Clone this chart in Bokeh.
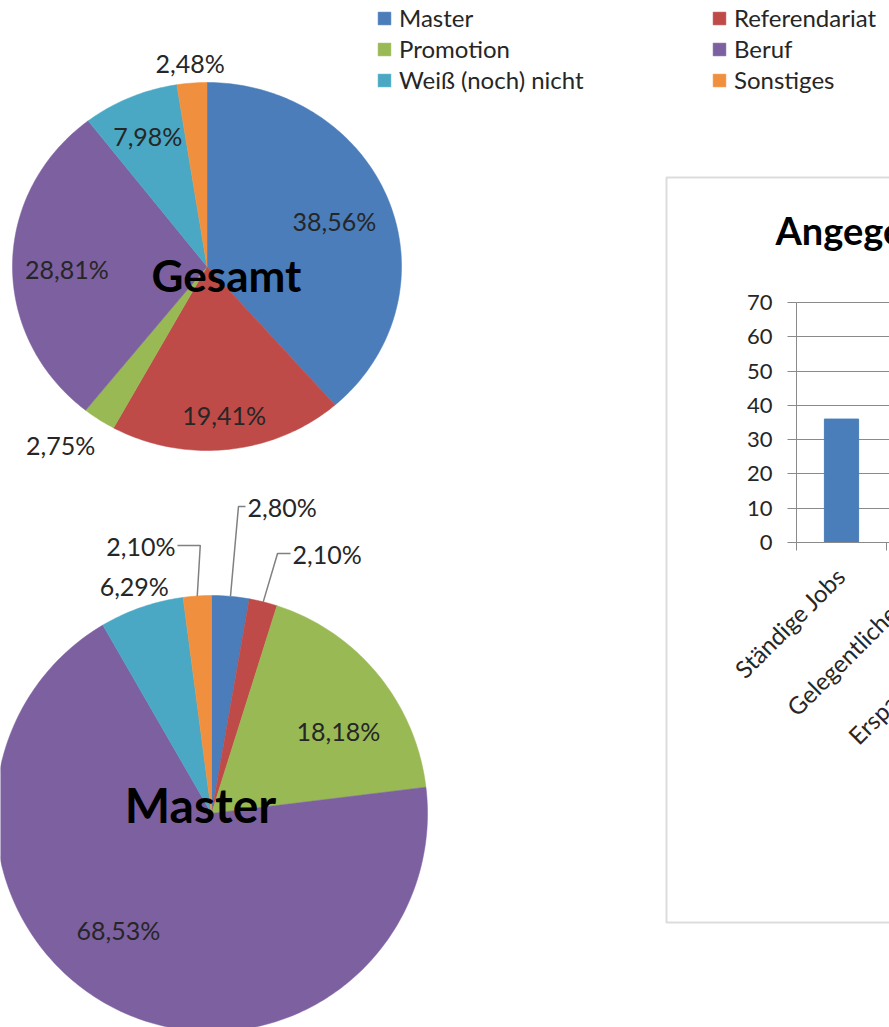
import numpy as np
from math import pi
from bokeh.plotting import figure
from bokeh.models import (Range1d, LinearAxis, FixedTicker, Grid, Legend, LegendItem,
                          LabelSet, BoxAnnotation, ColumnDataSource)
from bokeh.core.properties import value
from bokeh.embed import file_html
from bokeh.resources import INLINE

# ---------------- data ----------------
categories = ["Master", "Referendariat", "Promotion", "Beruf", "Weiß (noch) nicht", "Sonstiges"]
gesamt_pct = [38.56, 19.41, 2.75, 28.81, 7.98, 2.48]
master_pct = [2.80, 2.10, 18.18, 68.53, 6.29, 2.10]
pie_titles = ["Gesamt", "Master"]

bar_title = "Angegebene Finanzierungsquellen"
bar_categories = ["Ständige Jobs", "Gelegentliche Jobs", "Ersparnisse/Vermögen"]
bar_values = [36]
bar_ticks = [0, 10, 20, 30, 40, 50, 60, 70]

# ---------------- style / layout ----------------
colors = ["#4A7DBA", "#BE4B48", "#98B954", "#7D60A0", "#4AA8C4", "#F0903F"]
FONT = "Lato"
W, H = 889, 1027          # figure size
X0, Y0 = 0, 0             # page offset of the figure

# pie geometry: centre and radii (px)
PIE_G = dict(cx=206.5, cy=266, rx=194.5, ry=184)
PIE_M = dict(cx=211, cy=813, rx=216, ry=218)
# label placement per slice: (radial factor, dx, dy, align)
LAB_G = [(0.70, 0, 0, "center"), (0.81, 0, 0, "center"), (1.20, -17, -5, "center"),
         (0.72, 0, 4, "center"), (0.77, 0, 0, "center"), (1.11, 0, 0, "center")]
LAB_M = [(1.4137, 9.2, 0, "left"), (1.2284, 17.5, 0, "left"), (0.60, 27, 1, "center"),
         (0.599, -35.5, 0, "center"), (1.105, 0, 0, "center"), (1.232, -18.5, 0, "right")]
LEAD_M = [8, 14.3, None, None, None, 3]
TITLE_POS = [(226, 274, 44), (200, 804, 48)]   # x, y (middle), font size

# bar chart placement (px)
BAR_AX_X = 796      # y-axis x position
BAR_CAT_W = 90      # width of one category
BAR_Y0 = 542        # pixel of value 0
BAR_YTOP = 302      # pixel of top tick
BOX = dict(left=666, top=177, bottom=922)

p = figure(width=W, height=H, x_range=Range1d(X0, X0 + W), y_range=Range1d(Y0 + H, Y0),
           output_backend="svg", toolbar_location=None, min_border=0,
           x_axis_type=None, y_axis_type=None, outline_line_color=None)


def pct_text(v):
    return f"{v:.2f}".replace(".", ",") + "%"


def draw_pie(pcts, geo, labs, leads=None):
    cx, cy, rx, ry = geo["cx"], geo["cy"], geo["rx"], geo["ry"]
    total = float(sum(pcts))
    cum = np.concatenate([[0.0], np.cumsum(pcts)]) / total
    xs, ys, mids = [], [], []
    for a0, a1 in zip(cum[:-1], cum[1:]):
        n = max(4, int((a1 - a0) * 360) + 2)
        t = np.linspace(a0, a1, n) * 2 * pi
        xs.append(list(np.concatenate([[cx], cx + rx * np.sin(t)])))
        ys.append(list(np.concatenate([[cy], cy - ry * np.cos(t)])))
        mids.append((a0 + a1) * pi)
    src = ColumnDataSource(dict(xs=xs, ys=ys, color=colors, cat=categories))
    r = p.patches("xs", "ys", source=src, fill_color="color", line_color="color", line_width=0.5)
    groups = {"center": ([], [], []), "left": ([], [], []), "right": ([], [], [])}
    lead_xs, lead_ys = [], []
    for i, (v, m) in enumerate(zip(pcts, mids)):
        f, dx, dy, al = labs[i]
        lx = cx + rx * f * np.sin(m) + dx
        ly = cy - ry * f * np.cos(m) + dy
        g = groups[al]
        g[0].append(lx); g[1].append(ly); g[2].append(pct_text(v))
        if leads is not None and leads[i] is not None:
            ex, ey = cx + rx * np.sin(m), cy - ry * np.cos(m)
            ax = lx - 2 if al == "left" else lx + 2
            lead_xs.append([ex, ex + leads[i], ax])
            lead_ys.append([ey, ly, ly])
    for al, (gx, gy, gt) in groups.items():
        if gx:
            p.text(x=gx, y=gy, text=gt, text_align=al, text_baseline="middle",
                   text_font=value(FONT), text_font_size="25px", text_color="#262626")
    if lead_xs:
        p.multi_line(lead_xs, lead_ys, line_color="#808080", line_width=1.5)
    return r


r_g = draw_pie(gesamt_pct, PIE_G, LAB_G)
r_m = draw_pie(master_pct, PIE_M, LAB_M, LEAD_M)

for name, (tx, ty, fs) in zip(pie_titles, TITLE_POS):
    p.text(x=[tx], y=[ty], text=[name], text_align="center", text_baseline="middle",
           text_font=value(FONT), text_font_style="bold", text_font_size=f"{fs}px", text_color="black")

# legends (two columns)
leg_kw = dict(background_fill_alpha=0, border_line_color=None, padding=0, margin=0, spacing=2,
              glyph_width=16, glyph_height=16, label_standoff=7, label_text_font=FONT,
              label_text_font_size="24px", label_text_color="#262626")
leg1 = Legend(items=[LegendItem(label=categories[i], renderers=[r_g], index=i) for i in (0, 2, 4)],
              location=(376 - X0, H - 94), **leg_kw)
leg2 = Legend(items=[LegendItem(label=categories[i], renderers=[r_g], index=i) for i in (1, 3, 5)],
              location=(711 - X0, H - 94), **leg_kw)
p.add_layout(leg1)
p.add_layout(leg2)

# ---------------- bar chart ----------------
k = (BAR_Y0 - BAR_YTOP) / bar_ticks[-1]
p.extra_x_ranges["bx"] = Range1d((X0 - BAR_AX_X) / BAR_CAT_W - 0.5, (X0 + W - BAR_AX_X) / BAR_CAT_W - 0.5)
p.extra_y_ranges["by"] = Range1d((BAR_Y0 - (Y0 + H)) / k, (BAR_Y0 - Y0) / k)

p.add_layout(BoxAnnotation(left=BOX["left"], right=X0 + W + 20, top=BOX["top"], bottom=BOX["bottom"],
                           fill_alpha=0, line_color="#8a8a8a", line_width=2))

grid = Grid(dimension=1, ticker=FixedTicker(ticks=bar_ticks), x_range_name="bx", y_range_name="by",
            cross_bounds=(-0.5, len(bar_categories) + 5), grid_line_color="#8a8a8a", grid_line_width=1)
p.add_layout(grid)

p.vbar(x=list(range(len(bar_values))), top=bar_values, width=0.38, x_range_name="bx", y_range_name="by",
       fill_color="#4A7EBB", line_color="#4A7EBB")

yax = LinearAxis(x_range_name="bx", y_range_name="by", fixed_location=-0.5, bounds=(0, bar_ticks[-1]),
                 ticker=FixedTicker(ticks=bar_ticks), major_tick_out=9, major_tick_in=0,
                 minor_tick_out=0, minor_tick_in=0, axis_line_color="#8a8a8a",
                 major_tick_line_color="#8a8a8a", major_label_standoff=15,
                 major_label_text_font=FONT, major_label_text_font_size="22px",
                 major_label_text_color="#262626")
p.add_layout(yax, "left")

nb = len(bar_categories)
xax_t = LinearAxis(x_range_name="bx", y_range_name="by", fixed_location=0, bounds=(-0.5, nb + 3),
                   ticker=FixedTicker(ticks=[j - 0.5 for j in range(nb + 4)]), major_tick_out=8,
                   major_tick_in=0, minor_tick_out=0, minor_tick_in=0, axis_line_color="#8a8a8a",
                   major_tick_line_color="#8a8a8a", major_label_text_color=None)
p.add_layout(xax_t, "below")

cat_src = ColumnDataSource(dict(x=list(range(nb)), y=[0] * nb, text=bar_categories))
p.add_layout(LabelSet(x="x", y="y", text="text", source=cat_src, x_range_name="bx", y_range_name="by",
                      angle=pi / 4, x_offset=-1, y_offset=-29, text_align="right",
                      text_baseline="middle", text_font=value(FONT), text_font_size="24px",
                      text_color="#262626"))

p.text(x=[775], y=[229], text=[bar_title], text_align="left", text_baseline="middle",
       text_font=value(FONT), text_font_style="bold", text_font_size="38px", text_color="black")

open("out.html", "w").write(file_html(p, INLINE))
